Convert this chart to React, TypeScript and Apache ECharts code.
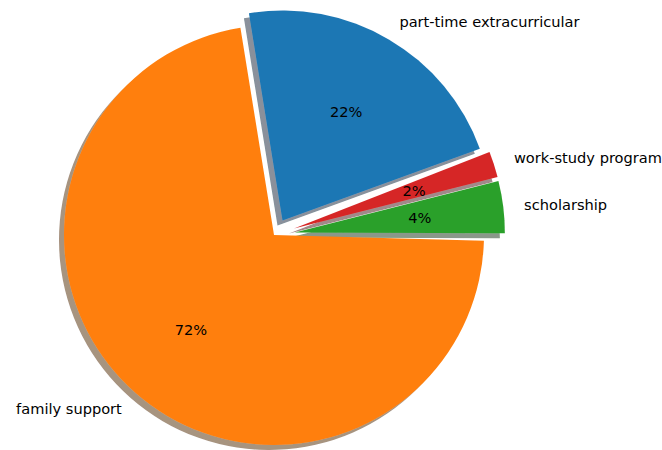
import React, { useEffect, useRef } from 'react';
import * as echarts from 'echarts';

const categories = ['part-time extracurricular', 'family support', 'scholarship', 'work-study program'];
const values = [22, 72, 4, 2];
const colors = ['#1f77b4', '#ff7f0e', '#2ca02c', '#d62728'];
const shadowColors = ['rgba(9,36,54,0.5)', 'rgba(77,38,4,0.5)', 'rgba(13,48,13,0.5)', 'rgba(64,12,12,0.5)'];
const explodeMain = 0.08;
const explodeSmall = 0.1;

const CX = 274;
const CY = 235;
const R = 210;
const START_MAIN = 20;
const START_SMALL = 21.4;
const SHADOW = 5;
const FONT = { fontFamily: 'DejaVu Sans', fontSize: 14.6, color: '#000' };
const HIDDEN = 'rgba(0,0,0,0)';

function makeSeries(members: number[], exploded: number[], offset: number, start: number, kind: 'wedge' | 'pct') {
  const data = categories.map((name, i) => {
    const on = members.includes(i);
    const item: any = {
      name,
      value: values[i],
      selected: exploded.includes(i),
      itemStyle: kind === 'wedge' && on
        ? {
            color: colors[i],
            shadowColor: shadowColors[i],
            shadowBlur: 0,
            shadowOffsetX: -SHADOW,
            shadowOffsetY: SHADOW,
          }
        : { color: HIDDEN, shadowColor: HIDDEN, shadowBlur: 0 },
      label: { show: on },
    };
    return item;
  });
  const base: any = {
    type: 'pie',
    center: [CX, CY],
    startAngle: start,
    clockwise: false,
    selectedMode: 'multiple',
    selectedOffset: offset,
    avoidLabelOverlap: false,
    silent: true,
    emphasis: { disabled: true, scale: false },
    animation: false,
    data,
  };
  if (kind === 'wedge') {
    return {
      ...base,
      radius: [0, R],
      label: {
        show: true,
        position: 'outside',
        formatter: '{b}',
        distanceToLabelLine: 0,
        ...FONT,
      },
      labelLine: { show: false, length: 0.1 * R, length2: 0 },
    };
  }
  return {
    ...base,
    radius: [0.2 * R - 6, R],
    label: {
      show: true,
      position: 'inside',
      formatter: (p: any) => Math.round(p.percent) + '%',
      ...FONT,
    },
    labelLine: { show: false },
  };
}

export default function App() {
  const ref = useRef<HTMLDivElement>(null);
  useEffect(() => {
    if (!ref.current) return;
    const chart = echarts.init(ref.current, null, { renderer: 'svg' });
    const groupA = [0, 1];
    const groupB = [2, 3];
    chart.setOption({
      animation: false,
      backgroundColor: '#ffffff',
      series: [
        makeSeries(groupB, groupB, explodeSmall * R, START_SMALL, 'wedge'),
        makeSeries(groupA, [0], explodeMain * R, START_MAIN, 'wedge'),
        makeSeries(groupB, groupB, explodeSmall * R, START_SMALL, 'pct'),
        makeSeries(groupA, [0], explodeMain * R, START_MAIN, 'pct'),
      ],
    });
    return () => chart.dispose();
  }, []);
  return (
    <div
      ref={ref}
      style={{ position: 'fixed', left: 0, top: 0, width: 662, height: 450 }}
    />
  );
}
